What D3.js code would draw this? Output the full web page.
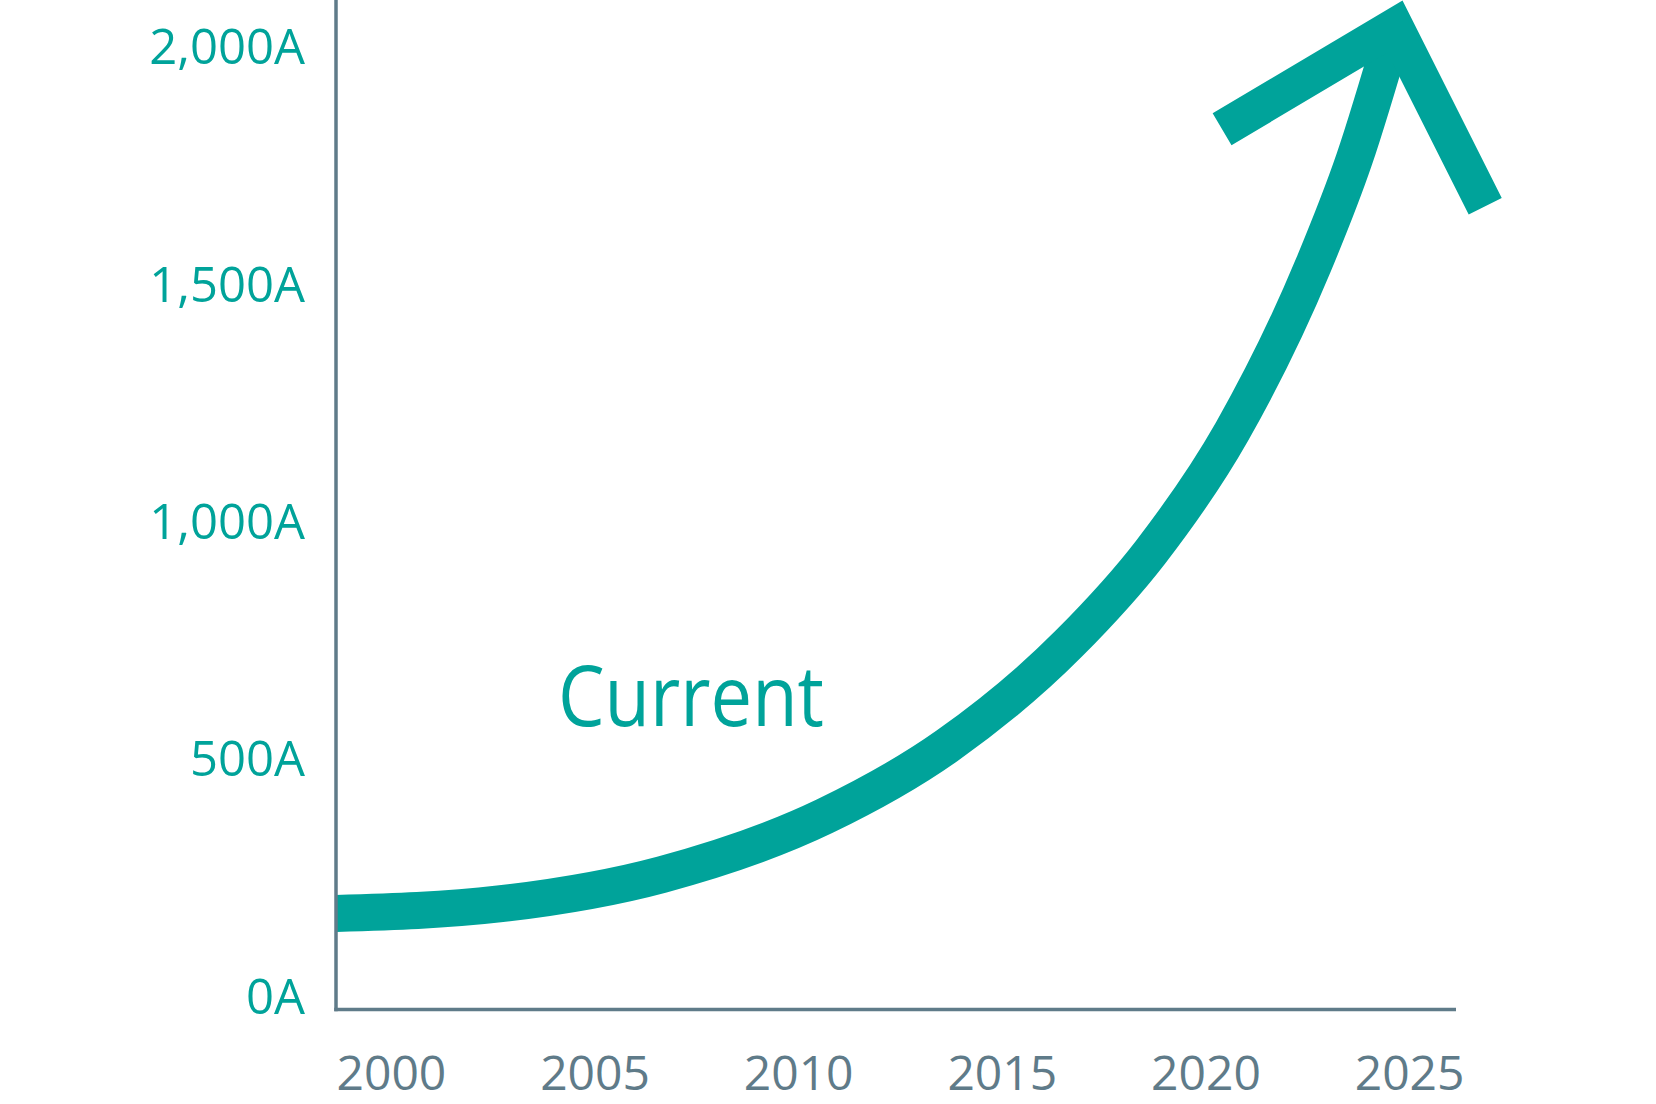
<!DOCTYPE html>
<html>
<head>
<meta charset="utf-8">
<script src="https://cdn.jsdelivr.net/npm/d3@7"></script>
<style>
  html, body { margin: 0; padding: 0; background: #ffffff; }
  svg { display: block; }
</style>
</head>
<body>
<svg id="chart" width="1656" height="1104"></svg>
<script>
// ---- data ----
const years   = [2000, 2004, 2008, 2012, 2015, 2018, 2020, 2022, 2024, 2025, 2026];
const current = [177, 197, 259, 382, 530, 746, 938, 1192, 1543, 1765, 2045];
const xTicks = [2000, 2005, 2010, 2015, 2020, 2025];
const yTicks = [0, 500, 1000, 1500, 2000];
const seriesLabel = "Current";

// ---- styling / layout ----
const TEAL = "#00a39a";
const SLATE = "#5f7b89";
const FONT = "'Open Sans', 'Noto Sans', sans-serif";
const left = 336, right = 1456, bottom = 1009.5;

const svg = d3.select("#chart");

const x = d3.scaleLinear().domain([2000, 2027.5]).range([left, right]);
const y = d3.scaleLinear().domain([0, 2000]).range([997.5, 48]);

// curve
const line = d3.line()
  .x((d, i) => x(years[i]))
  .y(d => y(d))
  .curve(d3.curveMonotoneX);

const path = svg.append("path")
  .attr("d", line(current))
  .attr("fill", "none")
  .attr("stroke", TEAL)
  .attr("stroke-width", 37)
  .attr("stroke-linecap", "butt");

// arrow head (chevron) at the curve end, oriented along the end direction
const node = path.node();
const L = node.getTotalLength();
const pEnd = node.getPointAtLength(L);
const pPrev = node.getPointAtLength(L - 40);
const ang = Math.atan2(pEnd.y - pPrev.y, pEnd.x - pPrev.x);
const back = ang + Math.PI;
const spread = 43 * Math.PI / 180;
const armLen = 201;
const a1 = back - spread, a2 = back + spread;
const chevron = [
  [pEnd.x + armLen * Math.cos(a2), pEnd.y + armLen * Math.sin(a2)],
  [pEnd.x, pEnd.y],
  [pEnd.x + armLen * Math.cos(a1), pEnd.y + armLen * Math.sin(a1)]
];
svg.append("path")
  .attr("d", d3.line()(chevron))
  .attr("fill", "none")
  .attr("stroke", TEAL)
  .attr("stroke-width", 37)
  .attr("stroke-linejoin", "miter")
  .attr("stroke-miterlimit", 10)
  .attr("stroke-linecap", "butt");

// axis lines
svg.append("line")
  .attr("x1", left).attr("x2", left)
  .attr("y1", 0).attr("y2", bottom + 1.75)
  .attr("stroke", SLATE).attr("stroke-width", 3.5);
svg.append("line")
  .attr("x1", left - 1.75).attr("x2", right)
  .attr("y1", bottom).attr("y2", bottom)
  .attr("stroke", SLATE).attr("stroke-width", 3.5);

// y axis labels
const yAxis = d3.axisLeft(y)
  .tickValues(yTicks)
  .tickSize(0)
  .tickPadding(31)
  .tickFormat(d => d3.format(",")(d) + "A");
const gy = svg.append("g").attr("transform", `translate(${left},0)`).call(yAxis);
gy.select(".domain").remove();
gy.selectAll("text")
  .attr("fill", TEAL)
  .style("font-family", FONT)
  .style("font-size", "49px");

// x axis labels
const xAxis = d3.axisBottom(x)
  .tickValues(xTicks)
  .tickSize(0)
  .tickPadding(46)
  .tickFormat(d3.format("d"));
const gx = svg.append("g").attr("transform", `translate(0,${bottom})`).call(xAxis);
gx.select(".domain").remove();
gx.selectAll("text")
  .attr("fill", SLATE)
  .attr("text-anchor", "start")
  .style("font-family", FONT)
  .style("font-size", "48px");

// series label
svg.append("text")
  .attr("x", x(2005.45))
  .attr("y", y(572))
  .attr("fill", TEAL)
  .attr("textLength", 266)
  .attr("lengthAdjust", "spacingAndGlyphs")
  .style("font-family", FONT)
  .style("font-size", "84px")
  .text(seriesLabel);
</script>
</body>
</html>
